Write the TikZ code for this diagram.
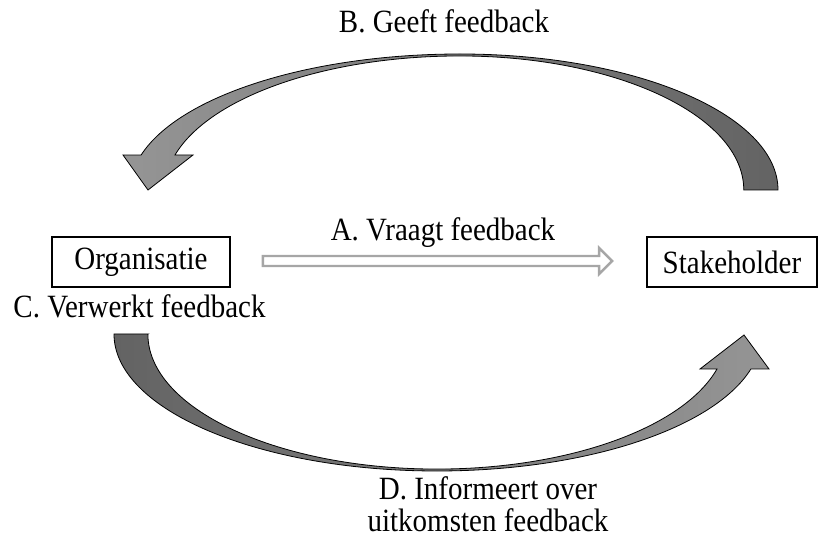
\documentclass[tikz,border=0pt]{standalone}
\usepackage{fontspec}
\setmainfont{Liberation Serif}
\usetikzlibrary{calc}
\definecolor{lg}{HTML}{959595}
\definecolor{dg}{HTML}{636363}
\definecolor{hollowgray}{HTML}{A6A6A6}
\newcommand{\stretchtxt}[1]{\scalebox{1}[1.12]{#1}}
\begin{document}
\begin{tikzpicture}[x=1pt,y=-1pt,
  lbl/.style={font=\fontsize{29}{30}\selectfont, inner sep=0pt},
  boxnode/.style={draw, line width=1.8pt, minimum height=50pt, inner sep=0pt,
    font=\fontsize{29}{30}\selectfont},
  curvedarrow/.style={draw=black, line width=0.8pt, line join=miter},
  hollowarrow/.style={draw=hollowgray, line width=2.4pt, fill=white, line join=miter}]
\useasboundingbox (0,0) rectangle (820,537);

% boxes
\node[boxnode, minimum width=178pt] (org) at (141,262) {\stretchtxt{Organisatie}};
\node[boxnode, minimum width=170pt] (stk) at (732,262) {\stretchtxt{Stakeholder}};

% labels
\node[lbl, anchor=base] (tB) at (444,33) {\stretchtxt{B. Geeft feedback}};
\node[lbl, anchor=base] (tA) at (443,241) {\stretchtxt{A. Vraagt feedback}};
\node[lbl, anchor=base] (tC) at (139.5,318) {\stretchtxt{C. Verwerkt feedback}};
\node[lbl, align=center, anchor=north] (tD) at (488,476) {\stretchtxt{D. Informeert over}\\[2pt]\stretchtxt{uitkomsten feedback}};

% hollow arrow A
\draw[hollowarrow]
  ($(org.east)+(32,-6)$) -- ($(stk.west)+(-47,-6)$) -- ($(stk.west)+(-47,-14)$)
  -- ($(stk.west)+(-34,-1)$) -- ($(stk.west)+(-47,12)$) -- ($(stk.west)+(-47,4)$)
  -- ($(org.east)+(32,4)$) -- cycle;

% curved arrow B (top, from stakeholder to organisatie)
\path[curvedarrow, left color=lg, right color=dg]
  (744,190) -- (778,190)
  arc[start angle=0, end angle=-90, x radius=318, y radius=136]
  arc[start angle=-90, end angle=-165.1, x radius=330, y radius=136]
  -- (123,155) -- (148,190) -- (193,155) -- (175,155)
  arc[start angle=-164.87, end angle=-90, x radius=295, y radius=134]
  arc[start angle=-90, end angle=0, x radius=284, y radius=134]
  -- cycle;

% curved arrow D (bottom, from organisatie to stakeholder)
\path[curvedarrow, left color=dg, right color=lg]
  (148,334) -- (114,334)
  arc[start angle=180, end angle=90, x radius=323, y radius=137]
  arc[start angle=90, end angle=14.8, x radius=324.7, y radius=137]
  -- (769,369) -- (744,335) -- (700,369) -- (717,369)
  arc[start angle=15.0, end angle=90, x radius=290, y radius=135]
  arc[start angle=90, end angle=180, x radius=289, y radius=135]
  -- cycle;
\end{tikzpicture}
\end{document}
